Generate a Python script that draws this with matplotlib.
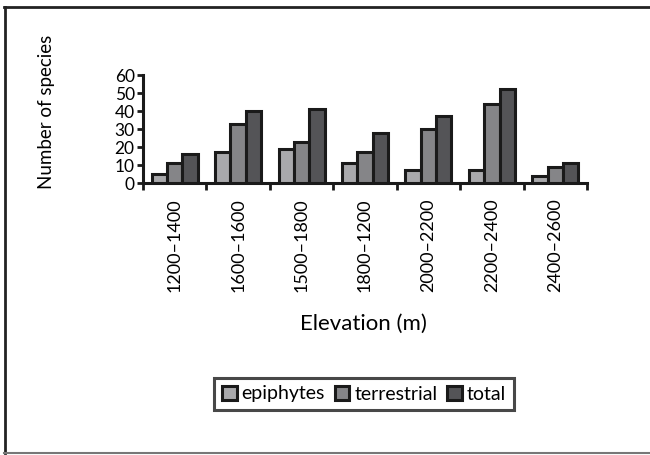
import matplotlib
matplotlib.use("Agg")
import matplotlib.pyplot as plt
import numpy as np
from matplotlib.lines import Line2D

plt.rcParams['font.family'] = ['Lato', 'DejaVu Sans']

categories = ["1200–1400", "1600–1600", "1500–1800", "1800–1200", "2000–2200", "2200–2400", "2400–2600"]
epiphytes = [5, 17, 19, 11, 7, 7, 4]
terrestrial = [11, 33, 23, 17, 30, 44, 9]
total = [16, 40, 41, 28, 37, 52, 11]
series_names = ["epiphytes", "terrestrial", "total"]
colors = ["#a9a9ac", "#858588", "#545457"]

W, H = 650, 455
fig = plt.figure(figsize=(W / 100, H / 100), dpi=100)
ax = fig.add_axes([143 / W, 1 - 183 / H, 444 / W, 108 / H])

x = np.arange(len(categories))
bw = 0.242
for i, (vals, name, c) in enumerate(zip([epiphytes, terrestrial, total], series_names, colors)):
    ax.bar(x + (i - 1) * bw, vals, bw, color=c, edgecolor="#1a1a1a", linewidth=2.2,
           label=name, zorder=3)

ax.set_xlim(-0.5, len(categories) - 0.5)
ax.set_ylim(0, 60)
ax.set_yticks(range(0, 61, 10))
ax.tick_params(axis='y', labelsize=12.5, length=4, width=2, direction='out', pad=2, color="#1a1a1a")

ax.set_xticks(x)
ax.set_xticklabels(categories, rotation=90, fontsize=13)
ax.tick_params(axis='x', length=0, pad=11)
# boundary tick marks
ax.set_xticks(np.arange(len(categories) + 1) - 0.5, minor=True)
ax.tick_params(axis='x', which='minor', length=5, width=2, direction='out', color="#1a1a1a")

for s in ["top", "right"]:
    ax.spines[s].set_visible(False)
for s in ["left", "bottom"]:
    ax.spines[s].set_linewidth(2.2)
    ax.spines[s].set_color("#1a1a1a")

fig.text(47 / W, 1 - 112 / H, "Number of species", rotation=90, ha='center', va='center', fontsize=13.5)
fig.text(363 / W, 1 - 324 / H, "Elevation (m)", ha='center', va='center', fontsize=16)

leg = fig.legend(loc='center', bbox_to_anchor=(364 / W, 1 - 394 / H), ncol=3, fontsize=14,
                 frameon=True, fancybox=False, handlelength=0.75, handleheight=0.75,
                 handletextpad=0.25, columnspacing=0.5, borderpad=0.4)
leg.get_frame().set_edgecolor("#1a1a1a")
leg.get_frame().set_linewidth(2.2)

# figure border (top, left, bottom)
fig.add_artist(Line2D([4 / W, 1], [1 - 7 / H, 1 - 7 / H], color="#222222", lw=2, transform=fig.transFigure))
fig.add_artist(Line2D([5 / W, 5 / W], [1 - 7 / H, 1 - 453 / H], color="#222222", lw=2, transform=fig.transFigure))
fig.add_artist(Line2D([4 / W, 1], [1 - 453 / H, 1 - 453 / H], color="#777777", lw=1.5, transform=fig.transFigure))

fig.savefig("out.png", dpi=100)
